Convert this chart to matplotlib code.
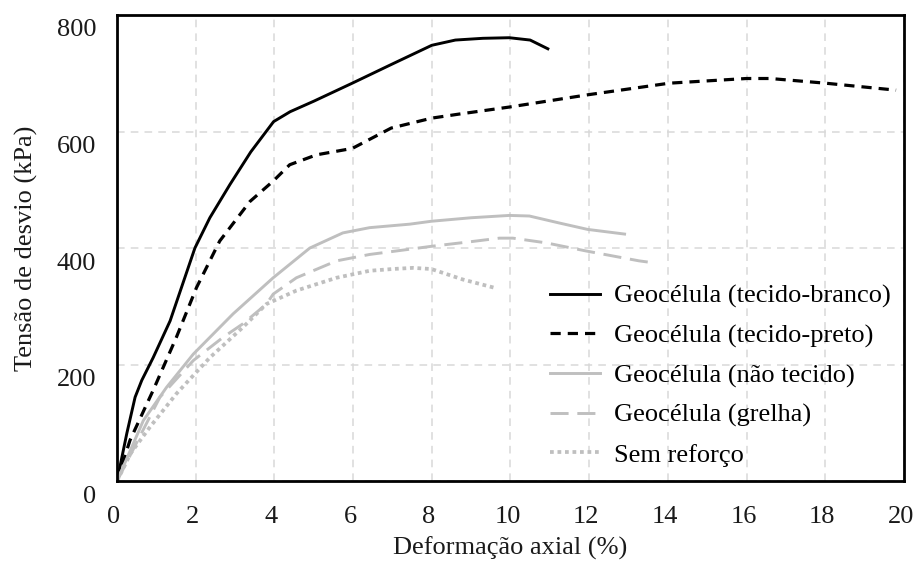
import matplotlib
matplotlib.use("Agg")
import matplotlib.pyplot as plt
import matplotlib.transforms as mtransforms

plt.rcParams["font.family"] = ["Liberation Serif", "DejaVu Serif"]
plt.rcParams["font.size"] = 19

# tecido-branco
x_branco = [0, 0.25, 0.46, 0.63, 0.92, 1.35, 1.98, 2.36, 2.87, 3.4, 3.98, 4.4, 5.0, 5.98, 7.0, 8.0, 8.6, 9.3, 9.97, 10.5, 10.95]
y_branco = [0, 82, 144, 173, 212, 275, 400, 452, 509, 565, 617, 634, 652, 683, 716, 748, 757, 760, 761, 757, 742]

# tecido-preto
x_preto = [0, 0.33, 0.92, 1.51, 2.02, 2.61, 3.38, 3.97, 4.39, 5.07, 5.98, 6.97, 8.0, 8.7, 9.97, 11.96, 14.04, 16.0, 16.6, 18.0, 19.8]
y_preto = [0, 70, 156, 247, 332, 412, 480, 515, 543, 560, 571, 606, 623, 630, 642, 663, 683, 691, 691, 683, 671]

# nao tecido
x_nao = [0, 0.67, 1.26, 1.94, 2.95, 3.97, 4.9, 5.74, 6.42, 7.44, 7.99, 9.0, 9.97, 10.48, 11.24, 11.96, 12.9]
y_nao = [0, 104, 161, 218, 287, 349, 400, 426, 435, 441, 446, 452, 456, 455, 443, 432, 424]

# grelha
x_grelha = [0, 1.09, 1.94, 2.7, 3.2, 3.8, 3.97, 4.56, 5.58, 6.42, 7.44, 7.99, 9.0, 9.72, 10.06, 10.9, 11.92, 13.27, 13.6]
y_grelha = [0, 144, 207, 247, 270, 304, 321, 349, 378, 389, 398, 403, 411, 417, 417, 409, 395, 378, 375]

# sem reforco
x_sem = [0, 0.34, 0.84, 1.51, 2.36, 3.2, 3.8, 4.56, 5.58, 6.42, 7.0, 7.52, 7.99, 8.79, 9.64]
y_sem = [0, 47, 93, 150, 212, 264, 304, 327, 349, 361, 364, 366, 364, 346, 331]

labels = [
    "Geocélula (tecido-branco)",
    "Geocélula (tecido-preto)",
    "Geocélula (não tecido)",
    "Geocélula (grelha)",
    "Sem reforço",
]

gray = "#bfbfbf"
txt = "#1a1a1a"

fig = plt.figure(figsize=(9.14, 5.66), dpi=100)
ax = fig.add_axes([0.128, 0.150, 0.861, 0.8235])

ax.plot(x_branco, y_branco, color="black", lw=2.1, label=labels[0])
ax.plot(x_preto, y_preto, color="black", lw=2.3, linestyle=(0, (3.2, 2.2)), label=labels[1])
ax.plot(x_nao, y_nao, color=gray, lw=2.1, label=labels[2])
ax.plot(x_grelha, y_grelha, color=gray, lw=2.1, linestyle=(0, (6.2, 3.0)), label=labels[3])
ax.plot(x_sem, y_sem, color=gray, lw=2.7, linestyle=(0, (1, 1)), label=labels[4])

ax.set_xlim(0, 20)
ax.set_ylim(0, 800)
ax.set_xticks(range(0, 21, 2))
ax.set_yticks(range(0, 801, 200))
ax.grid(True, color="#d9d9d9", linestyle=(0, (5, 4)), lw=1.1)
ax.set_axisbelow(True)

for sp in ax.spines.values():
    sp.set_linewidth(2)
    sp.set_color("black")

ax.tick_params(length=0, labelsize=19, colors=txt)
ax.tick_params(axis="x", pad=18)
ax.tick_params(axis="y", pad=15)

# tick labels sit a bit off the grid lines in the original
dx = mtransforms.ScaledTranslation(-3 / 100, 0, fig.dpi_scale_trans)
for lab in ax.get_xticklabels():
    lab.set_transform(lab.get_transform() + dx)
dy = mtransforms.ScaledTranslation(0, -13 / 100, fig.dpi_scale_trans)
for lab in ax.get_yticklabels():
    lab.set_transform(lab.get_transform() + dy)

ax.set_xlabel("Deformação axial (%)", fontsize=19, color=txt)
ax.xaxis.set_label_coords(0.5, -0.12)
ax.set_ylabel("Tensão de desvio (kPa)", fontsize=19, color=txt)
ax.yaxis.set_label_coords(-0.1, 0.5)

ax.legend(loc="lower right", bbox_to_anchor=(1.013, -0.02), frameon=False,
          fontsize=19, handlelength=1.9, handletextpad=0.5, labelspacing=0.6)

fig.savefig("out.png", dpi=100)
